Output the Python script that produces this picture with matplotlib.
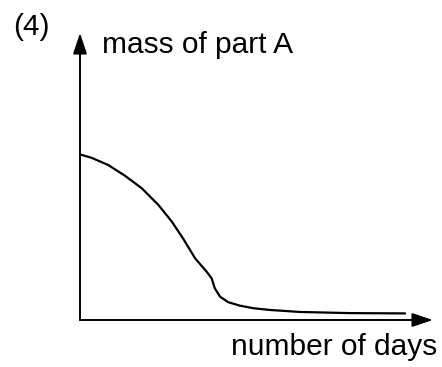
import matplotlib
matplotlib.use("Agg")
from matplotlib import pyplot as plt

# sketch values: days on x, mass of part A on y (arbitrary units)
days = [0, 3.3, 8.0, 12.7, 17.5, 22.2, 26.0, 29.3, 32.6, 35.9, 37.3, 38.2, 39.7,
        42.0, 45.3, 49.1, 53.8, 62.3, 76.5, 92.1]
mass = [57.7, 56.5, 54.0, 50.3, 45.9, 40.1, 34.3, 28.2, 21.5, 16.8, 14.5, 11.0, 8.1,
        6.2, 5.0, 4.1, 3.5, 2.8, 2.4, 2.3]

W, H = 442, 367
plt.rcParams['font.family'] = ['Liberation Sans', 'DejaVu Sans']

fig = plt.figure(figsize=(W / 100, H / 100), dpi=100)
ax = fig.add_axes([80 / W, (H - 320) / H, (433 - 80) / W, (320 - 33) / H])
ax.set_xlim(0, 100)
ax.set_ylim(0, 100)
ax.axis('off')

ax.plot(days, mass, color='black', lw=1.6, solid_capstyle='round', solid_joinstyle='round')

arrow = dict(arrowstyle='-|>,head_length=0.9,head_width=0.3', color='black', lw=1.4,
             mutation_scale=14, shrinkA=0, shrinkB=0)
ax.annotate('', xy=(1, 0), xytext=(0, 0), xycoords='axes fraction', arrowprops=arrow)
ax.annotate('', xy=(0, 1), xytext=(0, 0), xycoords='axes fraction', arrowprops=arrow)

fig.text(13 / W, 1 - 35 / H, '(4)', fontsize=21.5, va='baseline', ha='left')
fig.text(102 / W, 1 - 53 / H, 'mass of part A', fontsize=21.5, va='baseline', ha='left')
fig.text(437 / W, 1 - 355 / H, 'number of days', fontsize=21.5, va='baseline', ha='right')

fig.savefig('out.png', dpi=100, facecolor='white')
